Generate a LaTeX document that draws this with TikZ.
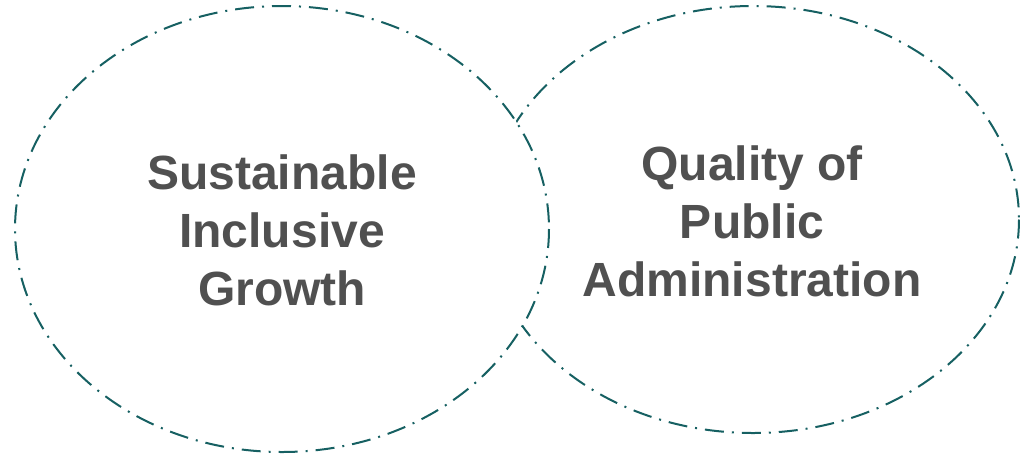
\documentclass[tikz,border=0pt]{standalone}
\usepackage{fontspec}
\setmainfont{Liberation Sans}
\definecolor{teal1}{RGB}{22,96,98}
\definecolor{txtgray}{RGB}{80,80,80}
\begin{document}
\begin{tikzpicture}[x=1pt,y=-1pt,
  ring/.style={draw=teal1, line width=2pt, fill=white,
    dash pattern=on 19pt off 8pt on 2pt off 8pt},
  label/.style={align=center, text=txtgray, font=\fontsize{48}{58}\selectfont\bfseries, inner sep=0pt}]
\useasboundingbox (0,0) rectangle (1020,456);
\draw[ring] (753,219.5) ellipse [x radius=266, y radius=213.5];
\draw[ring] (282,229) ellipse [x radius=267, y radius=223];
\node[label] (qpa) at (752,221) {Quality of\\Public\\Administration};
\node[label] (sig) at (282,230.5) {Sustainable\\Inclusive\\Growth};
\end{tikzpicture}
\end{document}
